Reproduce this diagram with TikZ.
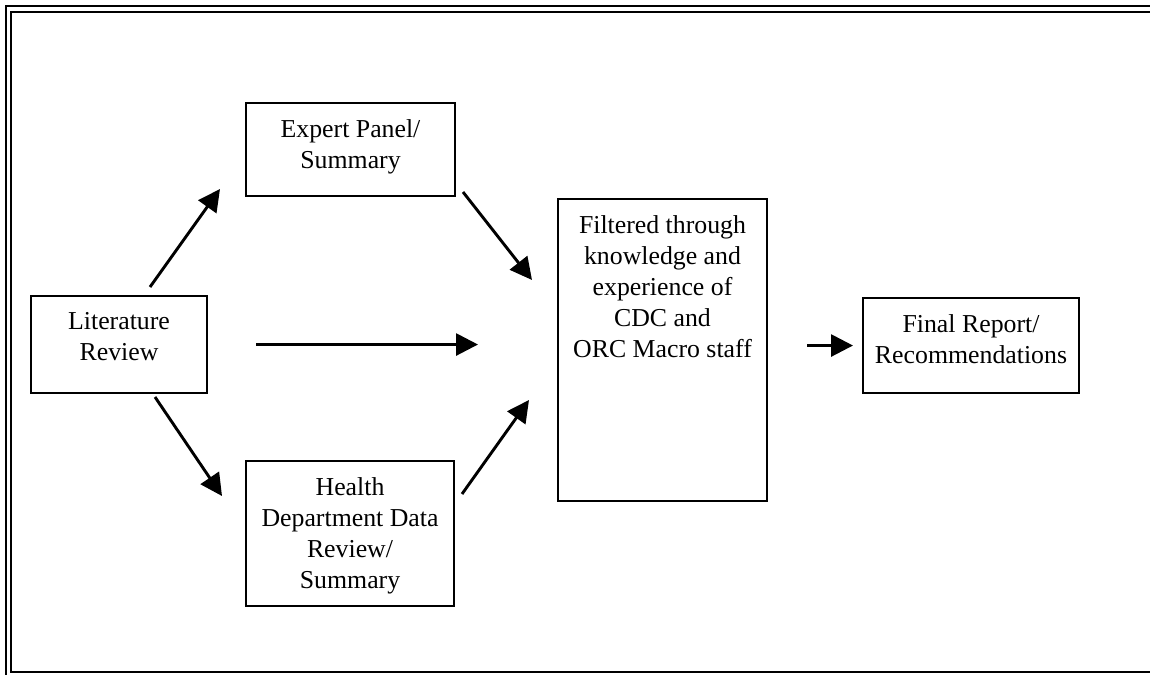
\documentclass[tikz,border=0pt]{standalone}
\usepackage{fontspec}
\setmainfont{Liberation Serif}
\usetikzlibrary{positioning,arrows.meta}
\newcommand{\FlowPx}{0.465}
\tikzset{
  flowbox/.style={draw, line width=0.95pt, inner sep=0pt, anchor=north west},
  flowtext/.style={align=center, inner sep=0pt, font=\fontsize{12}{14.4}\selectfont},
  flowarrow/.style={line width=1.35pt, -{Triangle[length=10.2pt, width=10.2pt]}}
}
\begin{document}
\begin{tikzpicture}[x=\FlowPx pt, y=-\FlowPx pt]
  \useasboundingbox (0,0) rectangle (1150,675);
  \draw[line width=0.8pt] (6,675) -- (6,6) -- (1150,6);
  \draw[line width=1.1pt] (1150,12) -- (11,12) -- (11,672) -- (1150,672);

  \node[flowbox, minimum width=176*\FlowPx pt, minimum height=97*\FlowPx pt] (lit) at (30,295) {};
  \node[flowbox, minimum width=209*\FlowPx pt, minimum height=93*\FlowPx pt] (expert) at (245,102) {};
  \node[flowbox, minimum width=208*\FlowPx pt, minimum height=145*\FlowPx pt] (health) at (245,460) {};
  \node[flowbox, minimum width=209*\FlowPx pt, minimum height=302*\FlowPx pt] (filtered) at (557,198) {};
  \node[flowbox, minimum width=216*\FlowPx pt, minimum height=95*\FlowPx pt] (final) at (862,297) {};

  \node[flowtext, below=17*\FlowPx pt of lit.north] (lit-text) {Literature\\Review};
  \node[flowtext, below=17*\FlowPx pt of expert.north] (expert-text) {Expert Panel/\\Summary};
  \node[flowtext, below=17*\FlowPx pt of health.north] (health-text) {Health\\Department Data\\Review/\\Summary};
  \node[flowtext, below=17*\FlowPx pt of filtered.north] (filtered-text) {Filtered through\\knowledge and\\experience of\\CDC and\\ORC Macro staff};
  \node[flowtext, below=17*\FlowPx pt of final.north] (final-text) {Final Report/\\Recommendations};

  \coordinate (lit-up) at (150,287);
  \coordinate (expert-in) at (220,189);
  \coordinate (lit-down) at (155,397);
  \coordinate (health-in) at (222,496);
  \coordinate (expert-out) at (463,192);
  \coordinate (filtered-top) at (532,280);
  \coordinate (health-out) at (462,494);
  \coordinate (filtered-bottom) at (529,400);

  \draw[flowarrow] (lit-up) -- (expert-in);
  \draw[flowarrow] (lit-down) -- (health-in);
  \draw[flowarrow, shorten <=48*\FlowPx pt, shorten >=79*\FlowPx pt] (lit.east) -- (lit.east -| filtered.west);
  \draw[flowarrow] (expert-out) -- (filtered-top);
  \draw[flowarrow] (health-out) -- (filtered-bottom);
  \draw[flowarrow, shorten <=39*\FlowPx pt, shorten >=9*\FlowPx pt] (final.west -| filtered.east) -- (final.west);
\end{tikzpicture}
\end{document}
